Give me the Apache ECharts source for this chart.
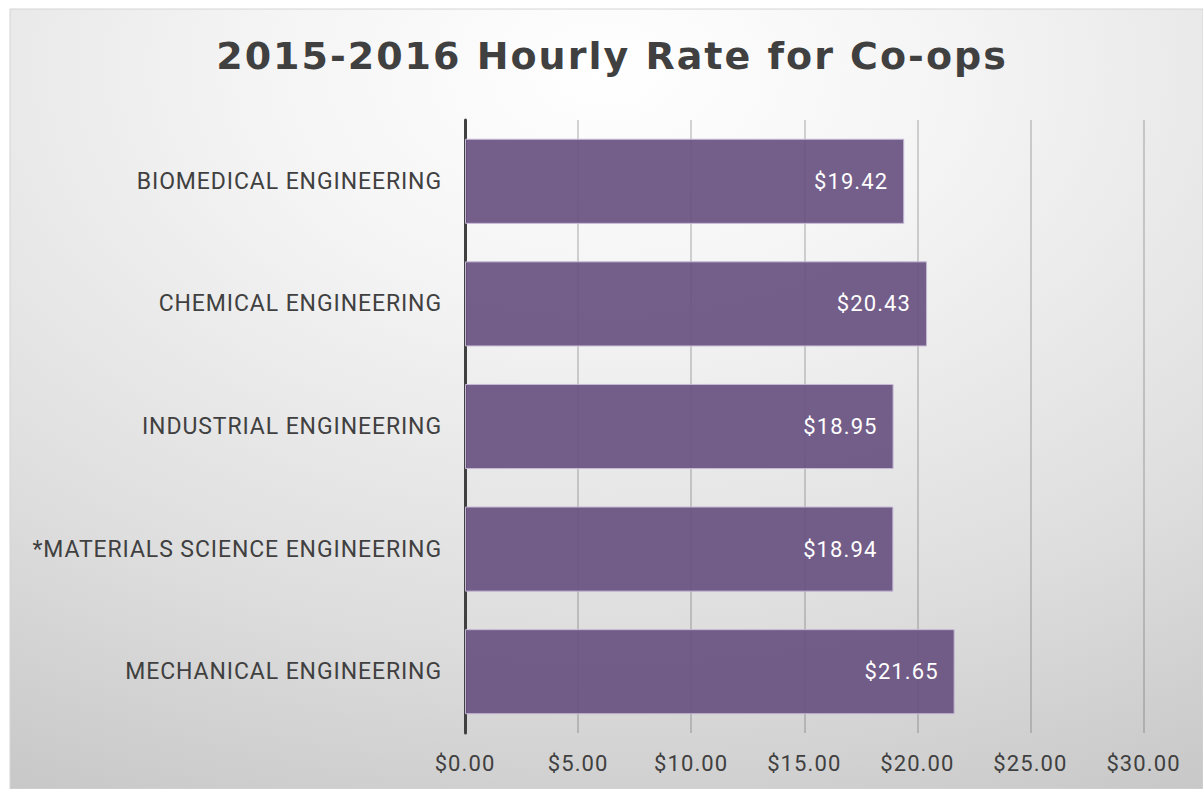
<!DOCTYPE html>
<html>
<head>
<meta charset="utf-8">
<script src="https://cdn.jsdelivr.net/npm/echarts@6/dist/echarts.min.js"></script>
<style>
html,body{margin:0;padding:0;background:#ffffff;}
#c{width:1203px;height:789px;}
#c svg text{letter-spacing:1.1px;}
#c svg text[style*="23px"], #c svg text[font-size*="23"]{letter-spacing:0.9px;}
#c svg text[style*="DejaVu"], #c svg text[font-family*="DejaVu"]{letter-spacing:2px;}
</style>
</head>
<body>
<div id="c"></div>
<script>
const categories = [
  "BIOMEDICAL ENGINEERING",
  "CHEMICAL ENGINEERING",
  "INDUSTRIAL ENGINEERING",
  "*MATERIALS SCIENCE ENGINEERING",
  "MECHANICAL ENGINEERING"
];
const hourlyRates = [19.42, 20.43, 18.95, 18.94, 21.65];
const xTicks = [0, 5, 10, 15, 20, 25, 30];
const titleText = "2015-2016 Hourly Rate for Co-ops";

const chart = echarts.init(document.getElementById('c'), null, {renderer: 'svg'});
const option = {
  backgroundColor: '#ffffff',
  animation: false,
  graphic: [{
    type: 'rect',
    z: -10,
    silent: true,
    shape: {x: 10, y: 9, width: 1193, height: 780},
    style: {
      fill: {
        type: 'radial', x: 0.5, y: 0.08, r: 1.2,
        colorStops: [
          {offset: 0, color: '#ffffff'},
          {offset: 0.25, color: '#f4f4f4'},
          {offset: 0.6, color: '#dedede'},
          {offset: 1, color: '#bdbdbd'}
        ]
      },
      stroke: '#d4d4d4',
      lineWidth: 1
    }
  }],
  title: {
    text: titleText,
    left: 607,
    textAlign: 'center',
    top: 32,
    textStyle: {
      fontFamily: 'DejaVu Sans',
      fontWeight: 'bold',
      fontSize: 38,
      color: '#404040'
    }
  },
  grid: {left: 465, right: 59.5, top: 120, bottom: 56, containLabel: false},
  xAxis: {
    type: 'value',
    min: xTicks[0],
    max: xTicks[xTicks.length - 1],
    interval: xTicks[1] - xTicks[0],
    axisLine: {show: false},
    axisTick: {show: false},
    splitLine: {show: true, lineStyle: {color: 'rgba(70,70,70,0.3)', width: 1.5}},
    axisLabel: {
      margin: 19,
      fontFamily: 'Roboto',
      fontSize: 22,
      color: '#404040',
      formatter: v => '$' + v.toFixed(2)
    }
  },
  yAxis: {
    type: 'category',
    data: categories,
    inverse: true,
    axisLine: {show: true, lineStyle: {color: '#404040', width: 3}},
    axisTick: {show: false},
    splitLine: {show: false},
    axisLabel: {
      margin: 23,
      fontFamily: 'Roboto',
      fontSize: 23,
      color: '#404040'
    }
  },
  series: [{
    type: 'bar',
    data: hourlyRates,
    barCategoryGap: '30.6%',
    itemStyle: {color: 'rgba(104,80,128,0.92)', borderColor: '#c6b9d6', borderWidth: 1},
    label: {
      show: true,
      position: 'insideRight',
      distance: 16,
      fontFamily: 'Roboto',
      fontSize: 22,
      color: '#ffffff',
      formatter: p => '$' + p.value.toFixed(2)
    }
  }]
};
chart.setOption(option);
</script>
</body>
</html>
